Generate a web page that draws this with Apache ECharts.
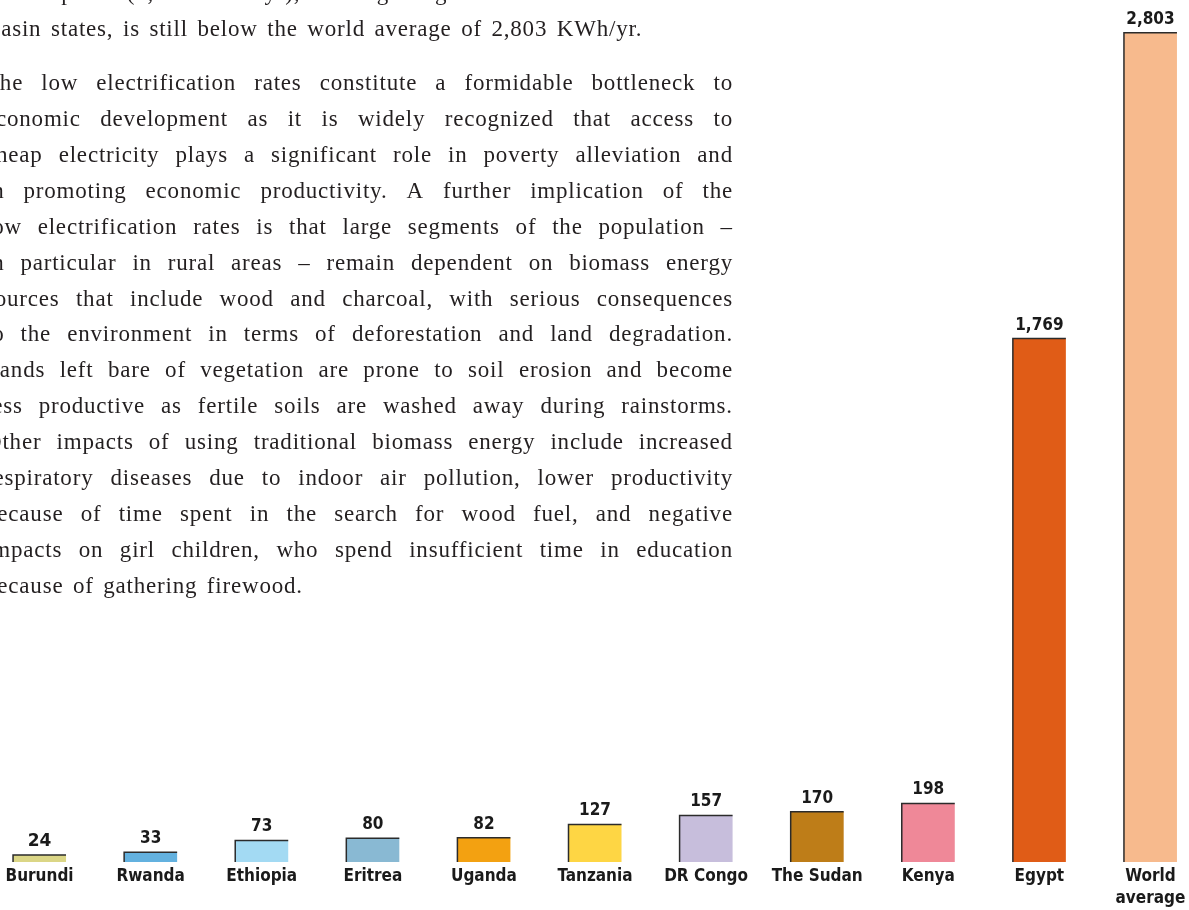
<!DOCTYPE html>
<html>
<head>
<meta charset="utf-8">
<script src="https://cdn.jsdelivr.net/npm/echarts@6/dist/echarts.min.js"></script>
<style>
  html, body { margin: 0; padding: 0; background: #fff; overflow: hidden; width: 1189px; height: 910px; }
  /* 图表比窗口宽一点，两边的空白被裁掉 */
  #main { position: absolute; left: -16px; top: 0; width: 1222px; height: 910px; }
  #text {
    position: absolute; left: -15px; top: -24.6px; width: 748px;
    font-family: "Liberation Serif", "DejaVu Serif", serif;
    font-size: 23px; line-height: 35.9px; color: #231f20;
    letter-spacing: 0.8px;
    pointer-events: none;
  }
  #text .j { display: flex; justify-content: space-between; white-space: nowrap; }
  #text .l { white-space: pre; word-spacing: 3px; }
  #text .gap { height: 17.9px; }
</style>
</head>
<body>
<div id="main"></div>
<div id="text"></div>
<script>
// 用电量 KWh/yr
var categories = ['Burundi', 'Rwanda', 'Ethiopia', 'Eritrea', 'Uganda', 'Tanzania',
  'DR Congo', 'The Sudan', 'Kenya', 'Egypt', 'World\naverage'];
var values = [24, 33, 73, 80, 82, 127, 157, 170, 198, 1769, 2803];
var barColors = ['#dbd686', '#63b1df', '#a3daf3', '#89b9d3', '#f3a111', '#fed644',
  '#c7bedc', '#be7d18', '#ef8898', '#e05c17', '#f7ba8d'];

// 正文 (j = 两端对齐, l = 段落最后一行)
var para1 = [
  ['j', 'consumption (1,769 KWh/yr), although higher than that of the other'],
  ['l', 'Basin states, is still below the world average of 2,803 KWh/yr.']
];
var para2 = [
  ['j', 'The low electrification rates constitute a formidable bottleneck to'],
  ['j', 'economic development as it is widely recognized that access to'],
  ['j', 'cheap electricity plays a significant role in poverty alleviation and'],
  ['j', 'in promoting economic productivity. A further implication of the'],
  ['j', 'low electrification rates is that large segments of the population –'],
  ['j', 'in particular in rural areas – remain dependent on biomass energy'],
  ['j', 'sources that include wood and charcoal, with serious consequences'],
  ['j', 'to the environment in terms of deforestation and land degradation.'],
  ['j', 'Lands left bare of vegetation are prone to soil erosion and become'],
  ['j', 'less productive as fertile soils are washed away during rainstorms.'],
  ['j', 'Other impacts of using traditional biomass energy include increased'],
  ['j', 'respiratory diseases due to indoor air pollution, lower productivity'],
  ['j', 'because of time spent in the search for wood fuel, and negative'],
  ['j', 'impacts on girl children, who spend insufficient time in education'],
  ['l', 'because of gathering firewood.']
];

function addLines(box, lines) {
  lines.forEach(function (ln) {
    var d = document.createElement('div');
    d.className = ln[0];
    if (ln[0] === 'j') {
      ln[1].split(' ').forEach(function (w) {
        var s = document.createElement('span');
        s.textContent = w;
        d.appendChild(s);
      });
    } else {
      d.textContent = ln[1];
    }
    box.appendChild(d);
  });
}

var box = document.getElementById('text');
addLines(box, para1);
var g = document.createElement('div');
g.className = 'gap';
box.appendChild(g);
addLines(box, para2);

var labelFont = '"Liberation Sans Narrow", "DejaVu Sans Condensed", sans-serif';

var myChart = echarts.init(document.getElementById('main'));

var barData = values.map(function (v, i) {
  var item = { value: v, itemStyle: { color: barColors[i] } };
  // 第一个标签字体不一样
  if (i === 0) {
    item.label = { fontFamily: '"DejaVu Sans", sans-serif', fontSize: 17 };
  }
  return item;
});

var borderData = values.map(function (v, i) {
  return [i, v];
});

var barW = 53;

var option = {
  animation: false,
  grid: {
    left: 0,
    right: 0,
    top: 4,
    bottom: 48
  },
  xAxis: {
    type: 'category',
    data: categories,
    axisLine: { show: false },
    axisTick: { show: false },
    axisLabel: {
      interval: 0,
      margin: 4,
      color: '#1a1a1a',
      fontFamily: labelFont,
      fontWeight: 'bold',
      fontSize: 17,
      lineHeight: 22
    }
  },
  yAxis: {
    type: 'value',
    min: 0,
    max: 2900,
    show: false,
    splitLine: { show: false }
  },
  series: [
    {
      type: 'bar',
      barWidth: barW,
      data: barData,
      label: {
        show: true,
        position: 'top',
        distance: 5,
        color: '#1a1a1a',
        fontFamily: labelFont,
        fontWeight: 'bold',
        fontSize: 17,
        formatter: function (p) {
          return p.value.toLocaleString('en-US');
        }
      }
    },
    {
      // 左边和上边的黑线
      type: 'custom',
      data: borderData,
      silent: true,
      z: 3,
      renderItem: function (params, api) {
        var base = api.coord([api.value(0), 0]);
        var top = api.coord([api.value(0), api.value(1)]);
        var x0 = base[0] - barW / 2;
        var x1 = base[0] + barW / 2;
        return {
          type: 'polyline',
          shape: { points: [[x0, base[1]], [x0, top[1]], [x1, top[1]]] },
          style: { stroke: '#2b2b2b', lineWidth: 1.5, fill: null }
        };
      }
    }
  ]
};

myChart.setOption(option);
</script>
</body>
</html>
